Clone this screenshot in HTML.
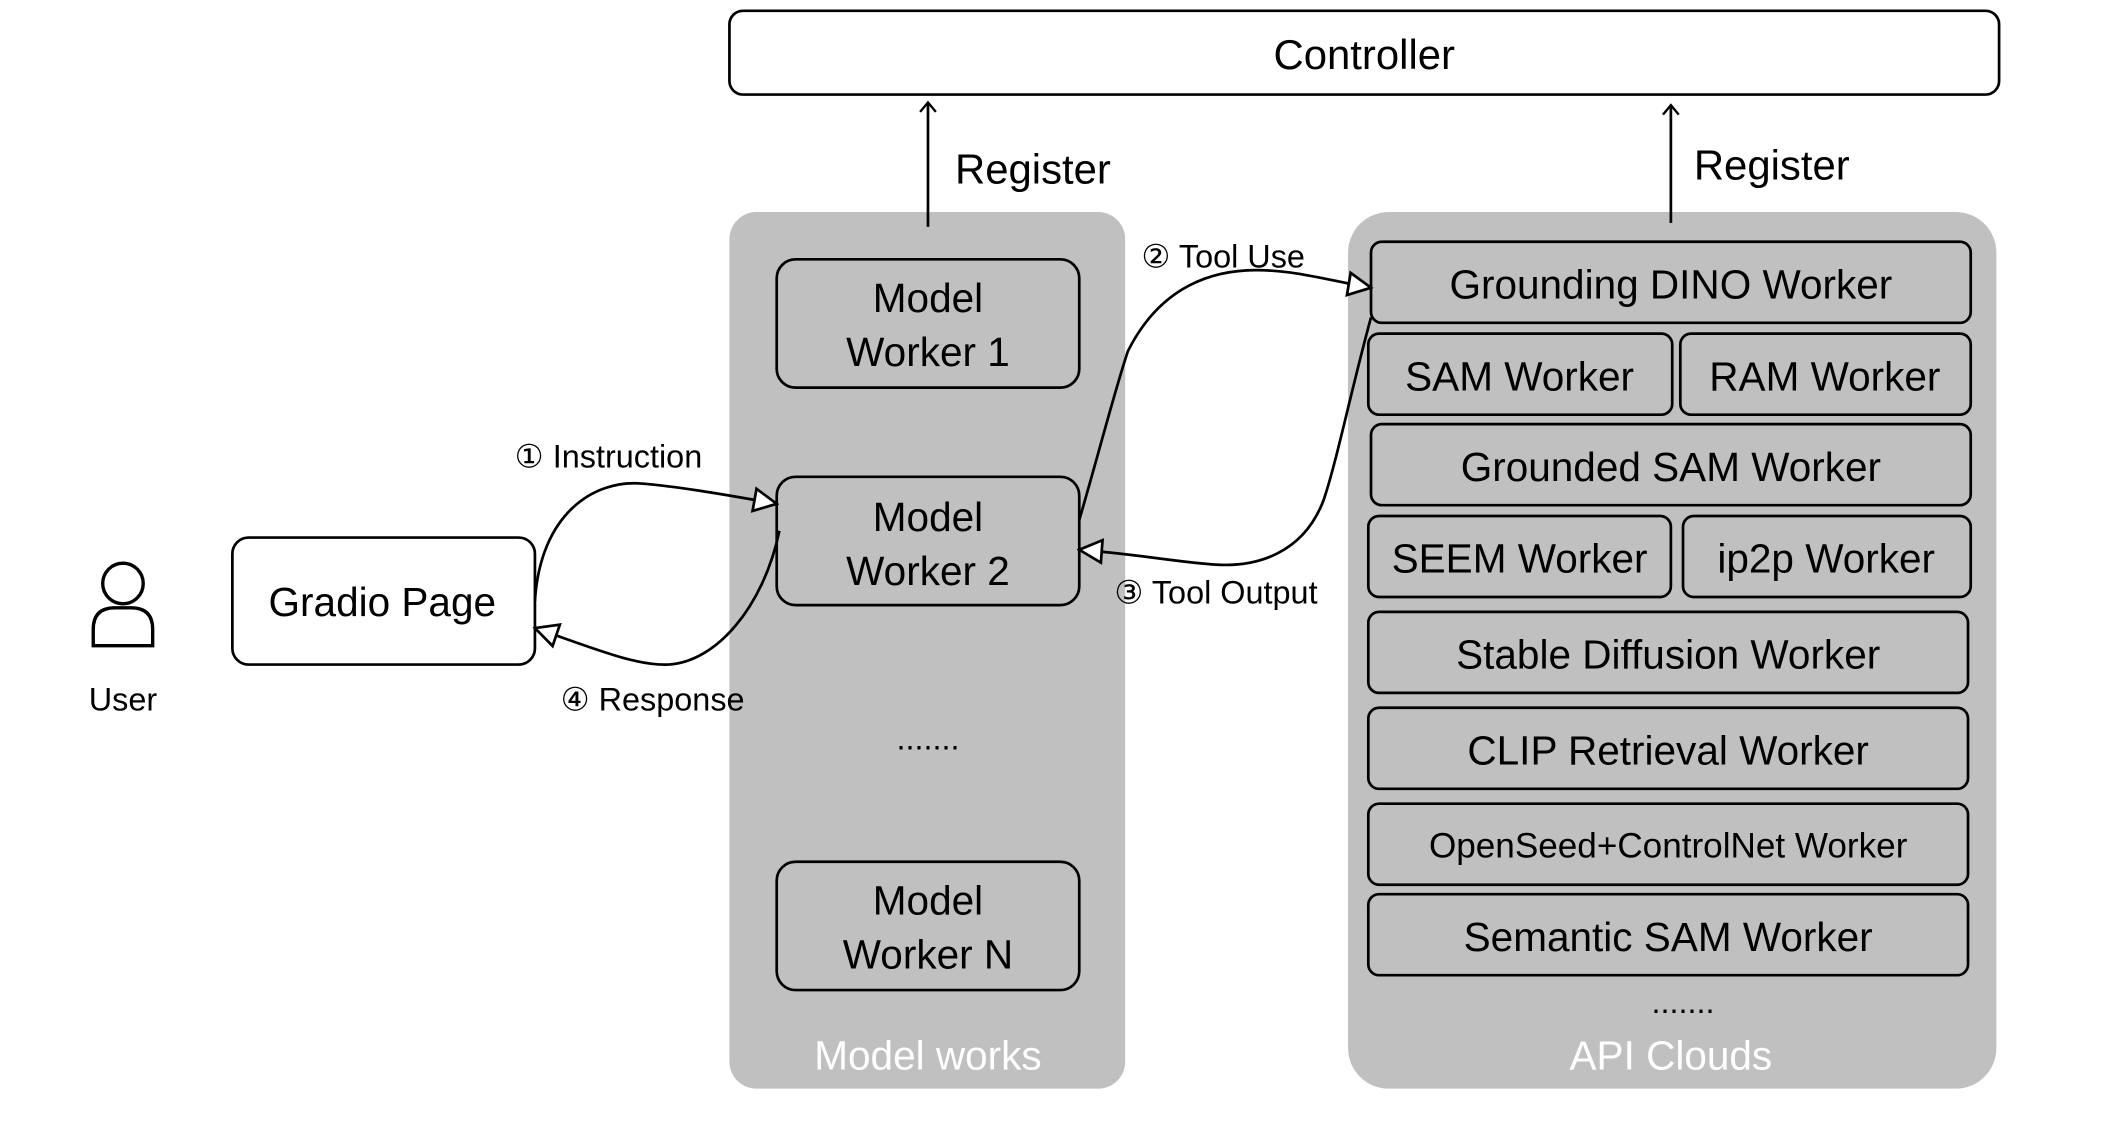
<!DOCTYPE html>
<html><head><meta charset="utf-8"><style>html,body{margin:0;padding:0;background:#fff}svg{display:block}text{font-family:"Liberation Sans","DejaVu Sans",sans-serif;fill:#000}</style></head><body>
<svg width="2118" height="1130" viewBox="0 0 1568 836.6" xmlns="http://www.w3.org/2000/svg">
<defs><marker id="a" viewBox="0 0 12 12" refX="11" refY="6" markerWidth="20" markerHeight="20" markerUnits="userSpaceOnUse" orient="auto"><path d="M1,1 L11,6 L1,11 Z" fill="#fff" stroke="#000" stroke-width="1.2"/></marker>
<marker id="s" viewBox="0 0 12 12" refX="6" refY="6" markerWidth="14" markerHeight="14" markerUnits="userSpaceOnUse" orient="auto"><path d="M1,1 L7,6 L1,11" fill="none" stroke="#000" stroke-width="1.5"/></marker></defs>
<rect x="540" y="8" width="940" height="62" rx="10" fill="#fff" stroke="#000" stroke-width="2"/>
<text x="1010" y="51" font-size="31" text-anchor="middle">Controller</text>
<rect x="540" y="157" width="293" height="649" rx="20" fill="#c0c0c0"/>
<rect x="998" y="157" width="480" height="649" rx="30" fill="#c0c0c0"/>
<line x1="687" y1="168" x2="687" y2="77" stroke="#000" stroke-width="2" marker-end="url(#s)"/>
<line x1="1237" y1="165" x2="1237" y2="79" stroke="#000" stroke-width="2" marker-end="url(#s)"/>
<text x="707" y="136" font-size="31">Register</text>
<text x="1254" y="133" font-size="31">Register</text>
<g fill="#c0c0c0" stroke="#000" stroke-width="2">
<rect x="575" y="192" width="224" height="95" rx="14"/>
<rect x="575" y="353" width="224" height="95" rx="14"/>
<rect x="575" y="638" width="224" height="95" rx="14"/>
<rect x="1015" y="179" width="444" height="60" rx="8"/>
<rect x="1013" y="247" width="225" height="60" rx="8"/>
<rect x="1244" y="247" width="215" height="60" rx="8"/>
<rect x="1015" y="314" width="444" height="60" rx="8"/>
<rect x="1013" y="382" width="224" height="60" rx="8"/>
<rect x="1246" y="382" width="213" height="60" rx="8"/>
<rect x="1013" y="453" width="444" height="60" rx="8"/>
<rect x="1013" y="524" width="444" height="60" rx="8"/>
<rect x="1013" y="595" width="444" height="60" rx="8"/>
<rect x="1013" y="662" width="444" height="60" rx="8"/>
</g>
<rect x="172" y="398" width="224" height="94" rx="12" fill="#fff" stroke="#000" stroke-width="2"/>
<g font-size="30" text-anchor="middle">
<text x="687" y="231">Model</text><text x="687" y="271">Worker 1</text>
<text x="687" y="393">Model</text><text x="687" y="433">Worker 2</text>
<text x="687" y="677">Model</text><text x="687" y="717">Worker N</text>
<text x="283" y="456">Gradio Page</text>
<text x="1237" y="221">Grounding DINO Worker</text>
<text x="1125" y="289">SAM Worker</text>
<text x="1351" y="289">RAM Worker</text>
<text x="1237" y="356">Grounded SAM Worker</text>
<text x="1125" y="424">SEEM Worker</text>
<text x="1352" y="424">ip2p Worker</text>
<text x="1235" y="495">Stable Diffusion Worker</text>
<text x="1235" y="566">CLIP Retrieval Worker</text>
<text x="1235" y="704">Semantic SAM Worker</text>
</g>
<text x="1235" y="635" font-size="26" text-anchor="middle">OpenSeed+ControlNet Worker</text>
<text x="687" y="555" font-size="24" text-anchor="middle">.......</text>
<text x="1246" y="750" font-size="24" text-anchor="middle">.......</text>
<text x="687" y="792" font-size="30" text-anchor="middle" style="fill:#fff">Model works</text>
<text x="1237" y="792" font-size="30" text-anchor="middle" style="fill:#fff">API Clouds</text>
<circle cx="91" cy="432" r="15" fill="#fff" stroke="#000" stroke-width="2.5"/>
<path d="M69,478 L69,466 Q69,450 85,450 L97,450 Q113,450 113,466 L113,478 Z" fill="#fff" stroke="#000" stroke-width="2.5"/>
<text x="91" y="526" font-size="24" text-anchor="middle">User</text>
<g fill="none" stroke="#000" stroke-width="2">
<path d="M396,445 C400,380 440,355 475,358 C500,360 530,365 575,373" marker-end="url(#a)"/>
<path d="M577,393 C565,450 530,490 495,492 C470,493 440,480 396,465" marker-end="url(#a)"/>
<path d="M799,385 C815,330 825,290 835,260 C860,210 900,200 930,200 C960,200 985,208 1015,213" marker-end="url(#a)"/>
<path d="M1015,235 C1000,290 990,340 980,370 C965,410 930,420 900,418 C870,416 840,410 799,407" marker-end="url(#a)"/>
</g>
<g font-size="24">
<text x="381" y="346">① Instruction</text>
<text x="845" y="198">② Tool Use</text>
<text x="825" y="447">③ Tool Output</text>
<text x="415" y="526">④ Response</text>
</g>
</svg>
</body></html>
